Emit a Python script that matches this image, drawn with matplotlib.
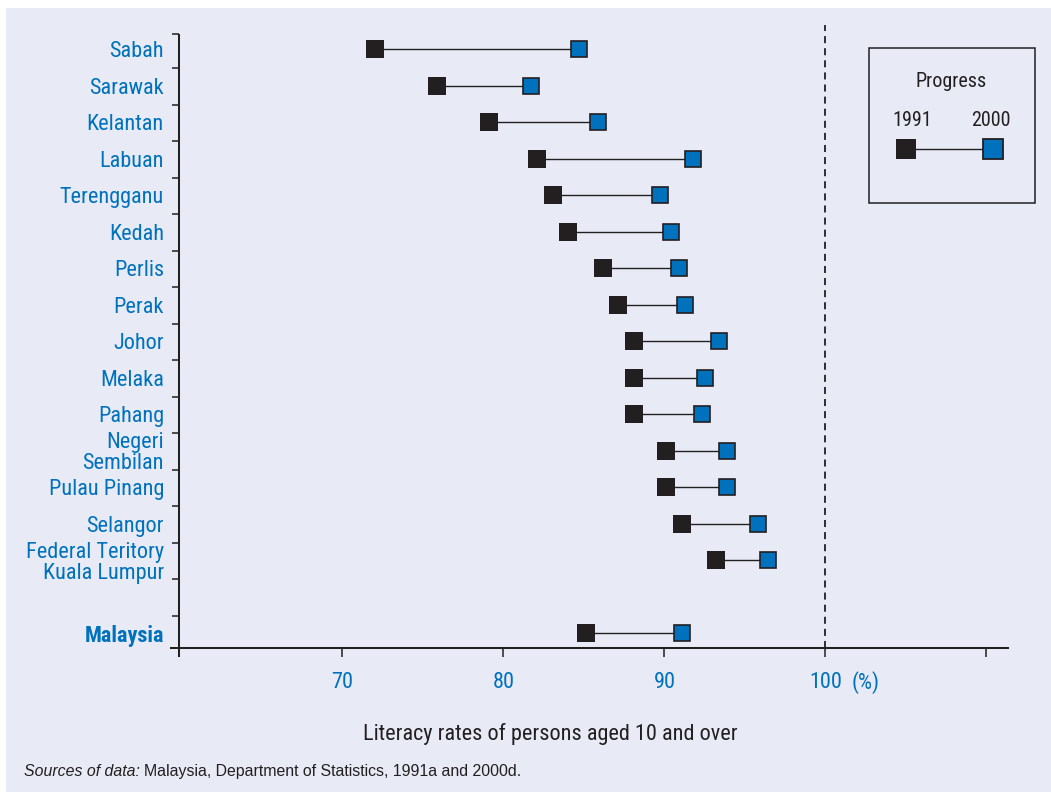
import numpy as np
import matplotlib
matplotlib.use("Agg")
import matplotlib.pyplot as plt
from matplotlib import font_manager as fm
from matplotlib.lines import Line2D
from matplotlib.patches import Rectangle

# ---------------- data ----------------
states = ["Sabah", "Sarawak", "Kelantan", "Labuan", "Terengganu", "Kedah",
          "Perlis", "Perak", "Johor", "Melaka", "Pahang", "Negeri\nSembilan",
          "Pulau Pinang", "Selangor", "Federal Teritory\nKuala Lumpur"]
rate_1991 = [72.0, 75.9, 79.1, 82.1, 83.1, 84.0, 86.2, 87.1, 88.1, 88.1,
             88.1, 90.1, 90.1, 91.1, 93.2]
rate_2000 = [84.7, 81.7, 85.9, 91.8, 89.7, 90.4, 90.9, 91.3, 93.4, 92.5,
             92.3, 93.9, 93.9, 95.8, 96.4]
national_label = "Malaysia"
national_1991 = 85.1
national_2000 = 91.1
x_ticks = [70, 80, 90, 100, 110]
x_tick_labels = ["70", "80", "90", "100", ""]
legend_years = ["1991", "2000"]

# ---------------- style ----------------
BG = "#E8EBF6"
BLUE = "#0071BC"
DARK = "#231F20"

# pick a condensed sans face if one is installed
fonts = fm.fontManager.ttflist
names = {f.name for f in fonts}
cond_names = {f.name for f in fonts
              if str(f.stretch) in ("condensed", "semi-condensed", "75", "87.5")}
FAM, STRETCH, SCALE = "Liberation Sans", "normal", 0.86
for fam in ["Liberation Sans Narrow", "Roboto Condensed", "Open Sans Condensed",
            "Noto Sans Condensed"]:
    if fam in names:
        FAM, STRETCH, SCALE = fam, "normal", 1.0
        break
else:
    for fam in ["Roboto", "Noto Sans", "Open Sans", "DejaVu Sans"]:
        if fam in cond_names:
            FAM, STRETCH, SCALE = fam, "condensed", 1.0
            break

plt.rcParams["font.family"] = [FAM, "DejaVu Sans"]
plt.rcParams["font.stretch"] = STRETCH

FS = 16 * SCALE
FS_LEG = 14.5 * SCALE

W, H = 1051, 792
fig = plt.figure(figsize=(W / 100, H / 100), dpi=100)
fig.patch.set_facecolor("white")
fig.add_artist(Rectangle((6 / W, 0), 1 - 6 / W, 1 - 8 / H, transform=fig.transFigure,
                         facecolor=BG, edgecolor="none", zorder=-10))

ax = fig.add_axes([179 / W, 1 - 648 / H, (1009 - 179) / W, (648 - 34) / H])
ax.patch.set_alpha(0)

ys = np.arange(len(states))
y_nat = len(states) + 1

# connectors
ax.hlines(ys, rate_1991, rate_2000, color=DARK, lw=1.0, zorder=2)
ax.hlines([y_nat], [national_1991], [national_2000], color=DARK, lw=1.0, zorder=2)
# markers
all91 = list(rate_1991) + [national_1991]
all00 = list(rate_2000) + [national_2000]
ally = list(ys) + [y_nat]
ax.plot(all91, ally, "s", ms=13, mfc=DARK, mec=DARK, mew=0, ls="none", zorder=3)
ax.plot(all00, ally, "s", ms=12.2, mfc=BLUE, mec=DARK, mew=1.2, ls="none", zorder=3)

ax.set_xlim(59.845, 111.40)
ax.set_ylim(16.41, -0.411)

# dashed 100% line
ax.plot([100, 100], [0, 1 + 9 / 614], transform=ax.get_xaxis_transform(),
        clip_on=False, color=DARK, lw=1.3, ls=(0, (3.9, 2.8)), zorder=1)

# spines
for s in ax.spines.values():
    s.set_visible(False)
ax.add_line(Line2D([0, 0], [-9 / 614, 1], transform=ax.transAxes, color=DARK,
                   lw=1.45, clip_on=False, solid_capstyle="butt"))
ax.add_line(Line2D([-9 / 830, 1], [0, 0], transform=ax.transAxes, color=DARK,
                   lw=1.45, clip_on=False, solid_capstyle="butt"))

# x ticks
ax.set_xticks(x_ticks)
ax.set_xticklabels(x_tick_labels)
ax.tick_params(axis="x", length=6.5, width=1.1, color=DARK, labelcolor=BLUE,
               labelsize=FS, pad=11)

# y ticks: boundaries as major ticks, category labels as minor
bounds = [-0.411] + [i + 0.53 for i in range(16)]
ax.set_yticks(bounds)
ax.set_yticklabels([])
ax.set_yticks(ally, minor=True)
ax.set_yticklabels(states + [national_label], minor=True)
ax.tick_params(axis="y", which="major", length=5, width=1.1, color=DARK)
ax.tick_params(axis="y", which="minor", length=0, pad=10.8, labelcolor=BLUE,
               labelsize=FS)
for lab in ax.get_yticklabels(minor=True):
    lab.set_linespacing(1.0)
    if lab.get_text() == national_label:
        lab.set_fontweight("bold")

# (%) next to 100
fig.text(866 / W, 1 - 689 / H, "(%)", ha="center", va="baseline", color=BLUE, fontsize=FS)

# x label
fig.text(550 / W, 1 - 740 / H, "Literacy rates of persons aged 10 and over",
         ha="center", va="baseline", color=DARK, fontsize=FS)

# source (regular-width face)
SRC = dict(family=["Liberation Sans", "DejaVu Sans"], stretch="normal", fontsize=11.4,
           color=DARK, va="baseline")
t1 = fig.text(24 / W, 1 - 776 / H, "Sources of data:", style="italic", **SRC)
fig.canvas.draw()
bb = t1.get_window_extent()
fig.text((bb.x1 + 4) / W, 1 - 776 / H,
         "Malaysia, Department of Statistics, 1991a and 2000d.", **SRC)

# legend box
fig.add_artist(Rectangle((869 / W, 1 - 203 / H), 166 / W, 155 / H, transform=fig.transFigure,
                         facecolor="none", edgecolor=DARK, lw=1.1))
fig.text(951 / W, 1 - 87 / H, "Progress", ha="center", va="baseline", color=DARK, fontsize=FS_LEG)
fig.text(912 / W, 1 - 126 / H, legend_years[0], ha="center", va="baseline", color=DARK, fontsize=FS_LEG)
fig.text(991 / W, 1 - 126 / H, legend_years[1], ha="center", va="baseline", color=DARK, fontsize=FS_LEG)
ly = 1 - 149 / H
fig.add_artist(Line2D([905.5 / W, 992.5 / W], [ly, ly], transform=fig.transFigure,
                      color=DARK, lw=1.0))
fig.add_artist(Line2D([905.5 / W], [ly], transform=fig.transFigure, marker="s", ms=15,
                      mfc=DARK, mec=DARK, mew=0, ls="none"))
fig.add_artist(Line2D([992.5 / W], [ly], transform=fig.transFigure, marker="s", ms=14,
                      mfc=BLUE, mec=DARK, mew=1.3, ls="none"))

fig.savefig("out.png", dpi=100, facecolor=fig.get_facecolor())
